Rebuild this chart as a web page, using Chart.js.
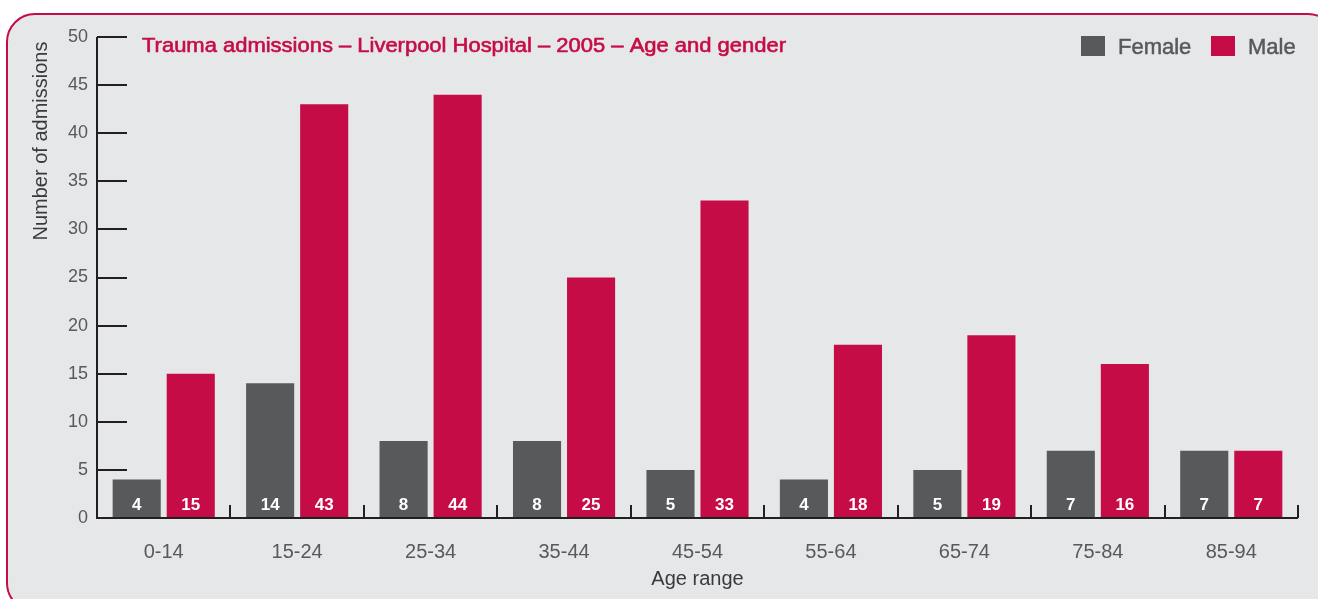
<!DOCTYPE html>
<html>
<head>
<meta charset="utf-8">
<script src="https://cdn.jsdelivr.net/npm/chart.js@4.4.0/dist/chart.umd.min.js"></script>
<style>
  html, body { margin: 0; padding: 0; background: #fff; }
  #wrap { width: 1318px; height: 599px; position: relative; }
</style>
</head>
<body>
<div id="wrap"><canvas id="bar-chart"></canvas></div>
<script>
let age_ranges = ["0-14", "15-24", "25-34", "35-44", "45-54", "55-64", "65-74", "75-84", "85-94"]
let female_nums = [4, 14, 8, 8, 5, 4, 5, 7, 7]
let male_nums = [15, 43, 44, 25, 33, 18, 19, 16, 7]
let chart_title = "Trauma admissions \u2013 Liverpool Hospital \u2013 2005 \u2013 Age and gender"
let y_title = "Number of admissions"
let x_title = "Age range"

const GREY = '#58595b'
const RED = '#c60c46'
const AXIS = '#231f20'
const FONT = "'Liberation Sans', Arial, sans-serif"

// frame, titles, legend, inner ticks and value labels
const decor = {
  id: 'decor',
  beforeDraw(chart) {
    const c = chart.ctx
    c.save()
    c.fillStyle = '#fff'
    c.fillRect(0, 0, chart.width, chart.height)
    c.beginPath()
    c.roundRect(7, 14, 1329, 597, 28)
    c.fillStyle = '#e6e7e9'
    c.fill()
    c.lineWidth = 2
    c.strokeStyle = RED
    c.stroke()
    c.restore()
  },
  afterDatasetsDraw(chart) {
    const c = chart.ctx
    const area = chart.chartArea
    const ys = chart.scales.y
    const xs = chart.scales.x
    const step = xs.getPixelForValue(1) - xs.getPixelForValue(0)
    c.save()
    c.strokeStyle = AXIS
    c.lineWidth = 2
    // y ticks pointing inward
    ys.ticks.forEach(t => {
      const py = Math.round(ys.getPixelForValue(t.value))
      c.beginPath()
      c.moveTo(area.left, py)
      c.lineTo(area.left + 30, py)
      c.stroke()
    })
    // x ticks between categories
    for (let i = 0; i < age_ranges.length; i++) {
      const px = Math.round(xs.getPixelForValue(i) + step / 2)
      c.beginPath()
      c.moveTo(px, area.bottom)
      c.lineTo(px, area.bottom - 13)
      c.stroke()
    }
    // axis lines
    c.beginPath()
    c.moveTo(area.left, area.top)
    c.lineTo(area.left, area.bottom)
    c.lineTo(area.right, area.bottom)
    c.stroke()

    // value labels
    c.fillStyle = '#fff'
    c.font = 'bold 17px ' + FONT
    c.textAlign = 'center'
    c.textBaseline = 'alphabetic'
    chart.data.datasets.forEach((ds, di) => {
      chart.getDatasetMeta(di).data.forEach((bar, i) => {
        c.fillText(String(ds.data[i]), bar.x, area.bottom - 8)
      })
    })

    // axis titles
    c.fillStyle = '#3a3a3c'
    c.font = '20px ' + FONT
    c.fillText(x_title, (area.left + area.right) / 2, 585)
    c.save()
    c.translate(47, 141)
    c.rotate(-Math.PI / 2)
    c.fillText(y_title, 0, 0)
    c.restore()

    // title, fitted to the reference width, slightly heavier
    c.fillStyle = RED
    c.strokeStyle = RED
    c.lineWidth = 0.6
    c.textAlign = 'left'
    c.font = '20px ' + FONT
    const tw = c.measureText(chart_title).width
    c.save()
    c.translate(142, 52)
    c.scale(644 / tw, 1)
    c.fillText(chart_title, 0, 0)
    c.strokeText(chart_title, 0, 0)
    c.restore()

    // legend
    c.font = '22px ' + FONT
    c.lineWidth = 0.5
    chart.data.datasets.forEach((ds, di) => {
      const bx = di === 0 ? 1081 : 1211
      c.fillStyle = ds.backgroundColor
      c.fillRect(bx, 36, 24, 20)
      c.fillStyle = GREY
      c.strokeStyle = GREY
      c.fillText(ds.label, bx + 37, 54)
      c.strokeText(ds.label, bx + 37, 54)
    })
    c.restore()
  }
}

const ctx = document.getElementById("bar-chart").getContext("2d")

new Chart(ctx, {
  type: "bar",
  data: {
    labels: age_ranges,
    datasets: [
      {
        label: "Female",
        data: female_nums,
        backgroundColor: GREY,
        borderWidth: 0,
        categoryPercentage: 0.81,
        barPercentage: 0.89
      },
      {
        label: "Male",
        data: male_nums,
        backgroundColor: RED,
        borderWidth: 0,
        categoryPercentage: 0.81,
        barPercentage: 0.89
      }
    ]
  },
  options: {
    responsive: true,
    maintainAspectRatio: false,
    animation: false,
    layout: {
      padding: { left: 0, top: 37, right: 20, bottom: 0 }
    },
    plugins: {
      legend: { display: false },
      title: { display: false },
      tooltip: { enabled: false }
    },
    scales: {
      x: {
        grid: { display: false, drawTicks: false },
        border: { display: false },
        ticks: {
          color: GREY,
          padding: 22,
          font: { family: FONT, size: 20 }
        },
        afterFit(scale) { scale.height = 81 }
      },
      y: {
        min: 0,
        max: 50,
        grid: { display: false, drawTicks: false },
        border: { display: false },
        ticks: {
          stepSize: 5,
          color: GREY,
          padding: 9,
          font: { family: FONT, size: 18 }
        },
        afterFit(scale) { scale.width = 97 }
      }
    }
  },
  plugins: [decor]
})
</script>
</body>
</html>
